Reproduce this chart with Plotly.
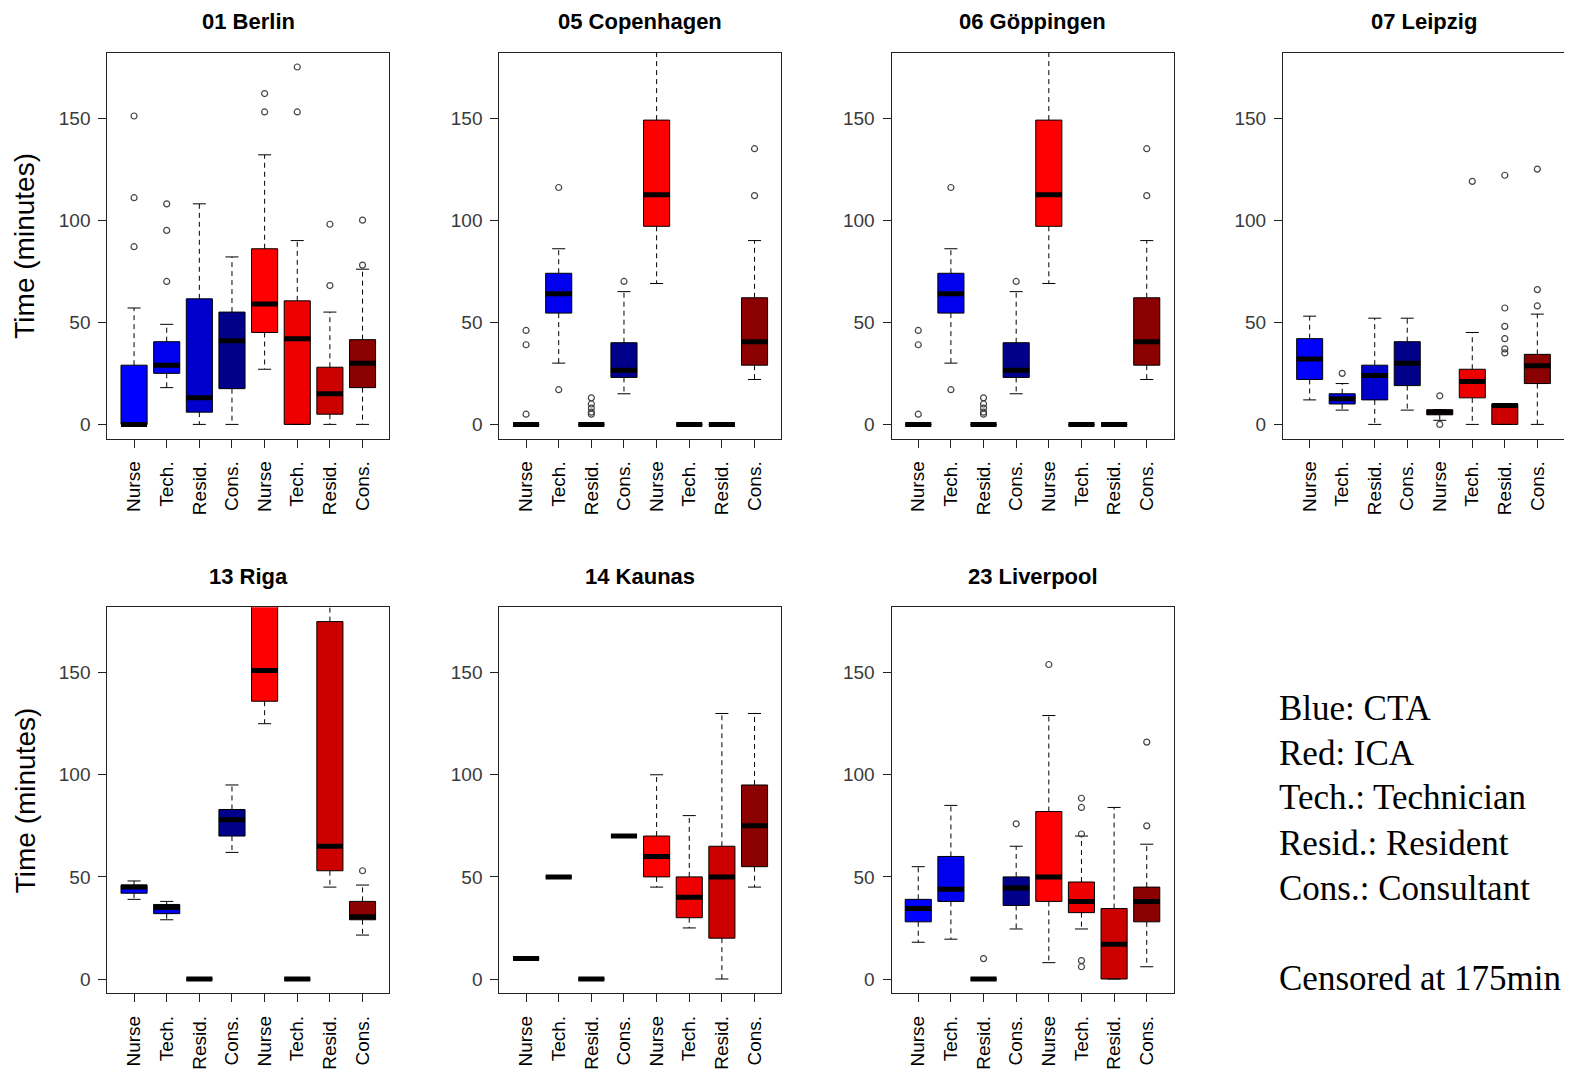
import plotly.graph_objects as go

CATEGORIES = ["Nurse", "Tech.", "Resid.", "Cons.", "Nurse", "Tech.", "Resid.", "Cons."]
CITIES = ["01 Berlin", "05 Copenhagen", "06 Göppingen", "07 Leipzig",
          "13 Riga", "14 Kaunas", "23 Liverpool"]
Y_TICKS = [0, 50, 100, 150]

BERLIN_Q1 = [0, 25, 6, 17.5, 45, 0, 5, 18]
BERLIN_MED = [0, 29, 13, 41, 59, 42, 15, 30]
BERLIN_Q3 = [29, 40.5, 61.5, 55, 86, 60.5, 28, 41.5]
BERLIN_LO = [0, 18, 0, 0, 27, 0, 0, 0]
BERLIN_HI = [57, 49, 108, 82, 132, 90, 55, 76]
BERLIN_OUT = [[151, 111, 87], [108, 95, 70], [], [], [162, 153], [175, 153], [98, 68], [100, 78]]

COPENHAGEN_Q1 = [0, 54.5, 0, 23, 97, 0, 0, 29]
COPENHAGEN_MED = [0, 64, 0, 26.5, 112.5, 0, 0, 40.5]
COPENHAGEN_Q3 = [0, 74, 0, 40, 149, 0, 0, 62]
COPENHAGEN_LO = [0, 30, 0, 15, 69, 0, 0, 22]
COPENHAGEN_HI = [0, 86, 0, 65, 190, 0, 0, 90]
COPENHAGEN_OUT = [[46, 39, 5], [116, 17], [13, 10, 8, 6, 5], [70], [], [], [], [135, 112]]

GOPPINGEN_Q1 = [0, 54.5, 0, 23, 97, 0, 0, 29]
GOPPINGEN_MED = [0, 64, 0, 26.5, 112.5, 0, 0, 40.5]
GOPPINGEN_Q3 = [0, 74, 0, 40, 149, 0, 0, 62]
GOPPINGEN_LO = [0, 30, 0, 15, 69, 0, 0, 22]
GOPPINGEN_HI = [0, 86, 0, 65, 190, 0, 0, 90]
GOPPINGEN_OUT = [[46, 39, 5], [116, 17], [13, 10, 8, 6, 5], [70], [], [], [], [135, 112]]

LEIPZIG_Q1 = [22, 10, 12, 19, 4.7, 13, 0, 20]
LEIPZIG_MED = [32, 12.5, 24, 30, 6, 21, 9.3, 28.7]
LEIPZIG_Q3 = [42, 15, 29, 40.5, 7.2, 27, 10, 34.3]
LEIPZIG_LO = [12, 7, 0, 7, 2, 0, 0, 0]
LEIPZIG_HI = [53, 20, 52, 52, 7.2, 45, 10, 54]
LEIPZIG_OUT = [[], [25], [], [], [14, 0], [119], [122, 57, 48, 42, 37, 35], [125, 66, 58]]

RIGA_Q1 = [42, 32, 0, 70, 136, 0, 53, 29]
RIGA_MED = [45, 35, 0, 78, 151, 0, 65, 30.5]
RIGA_Q3 = [46, 36.5, 0, 83, 190, 0, 175, 38]
RIGA_LO = [39, 29, 0, 62, 125, 0, 45, 21.5]
RIGA_HI = [48, 38, 0, 95, 190, 0, 190, 46]
RIGA_OUT = [[], [], [], [], [], [], [], [53]]

KAUNAS_Q1 = [10, 50, 0, 70, 50, 30, 20, 55]
KAUNAS_MED = [10, 50, 0, 70, 60, 40, 50, 75]
KAUNAS_Q3 = [10, 50, 0, 70, 70, 50, 65, 95]
KAUNAS_LO = [10, 50, 0, 70, 45, 25, 0, 45]
KAUNAS_HI = [10, 50, 0, 70, 100, 80, 130, 130]
KAUNAS_OUT = [[], [], [], [], [], [], [], []]

LIVERPOOL_Q1 = [28, 38, 0, 36, 38, 32.5, 0, 28]
LIVERPOOL_MED = [34.5, 44, 0, 44.5, 50, 38, 17, 38]
LIVERPOOL_Q3 = [39, 60, 0, 50, 82, 47.5, 34.5, 45]
LIVERPOOL_LO = [18, 19.5, 0, 24.5, 8, 24.5, 0, 6]
LIVERPOOL_HI = [55, 85, 0, 65, 129, 70, 84, 66]
LIVERPOOL_OUT = [[], [], [10], [76], [154], [88.5, 84, 71, 9, 6], [], [116, 75]]

LEGEND_LINES = ["Blue: CTA", "Red: ICA", "Tech.: Technician",
                "Resid.: Resident", "Cons.: Consultant", "Censored at 175min"]

PANELS = [
    (BERLIN_Q1, BERLIN_MED, BERLIN_Q3, BERLIN_LO, BERLIN_HI, BERLIN_OUT),
    (COPENHAGEN_Q1, COPENHAGEN_MED, COPENHAGEN_Q3, COPENHAGEN_LO, COPENHAGEN_HI, COPENHAGEN_OUT),
    (GOPPINGEN_Q1, GOPPINGEN_MED, GOPPINGEN_Q3, GOPPINGEN_LO, GOPPINGEN_HI, GOPPINGEN_OUT),
    (LEIPZIG_Q1, LEIPZIG_MED, LEIPZIG_Q3, LEIPZIG_LO, LEIPZIG_HI, LEIPZIG_OUT),
    (RIGA_Q1, RIGA_MED, RIGA_Q3, RIGA_LO, RIGA_HI, RIGA_OUT),
    (KAUNAS_Q1, KAUNAS_MED, KAUNAS_Q3, KAUNAS_LO, KAUNAS_HI, KAUNAS_OUT),
    (LIVERPOOL_Q1, LIVERPOOL_MED, LIVERPOOL_Q3, LIVERPOOL_LO, LIVERPOOL_HI, LIVERPOOL_OUT),
]

# ---- styling / layout ----
OFF = 8  # default page body margin
W, H = 1572 - 2 * OFF, 1080 - 2 * OFF
BOX_COLORS = ["#0000FF", "#0000EE", "#0000CD", "#00008B",
              "#FF0000", "#EE0000", "#CD0000", "#8B0000"]
SANS = "Liberation Sans, Arial, sans-serif"
SERIF = "Liberation Serif, Times New Roman, serif"
COL_LEFT = [107.3, 499.3, 891.5, 1283.0]
PANEL_W = 282.0
ROW_TOP = [52.7, 607.3]
PANEL_H = 386.0
BOX_HALF = 0.4
CAP_HALF = 0.2


def px(x):
    return min(1.0, max(0.0, (x - OFF) / W))


def py(y):
    return min(1.0, max(0.0, 1 - (y - OFF) / H))


fig = go.Figure()
layout = dict(width=W, height=H, autosize=False, margin=dict(l=0, r=0, t=0, b=0),
              paper_bgcolor="white", plot_bgcolor="white", showlegend=False,
              annotations=[])

for i, (q1, med, q3, lo, hi, out) in enumerate(PANELS):
    r, c = divmod(i, 4)
    ax = "" if i == 0 else str(i + 1)
    xref, yref = "x" + ax, "y" + ax
    xs = list(range(1, len(CATEGORIES) + 1))

    # whiskers (dashed)
    wx, wy = [], []
    for x, a, b, l, h in zip(xs, q1, q3, lo, hi):
        wx += [x, x, None, x, x, None]
        wy += [b, h, None, a, l, None]
    fig.add_trace(go.Scatter(x=wx, y=wy, mode="lines", xaxis=xref, yaxis=yref,
                             line=dict(color="black", width=1, dash="5px,4px"),
                             hoverinfo="skip"))
    # staples
    sx, sy = [], []
    for x, l, h in zip(xs, lo, hi):
        sx += [x - CAP_HALF, x + CAP_HALF, None, x - CAP_HALF, x + CAP_HALF, None]
        sy += [h, h, None, l, l, None]
    fig.add_trace(go.Scatter(x=sx, y=sy, mode="lines", xaxis=xref, yaxis=yref,
                             line=dict(color="black", width=1), hoverinfo="skip"))
    # boxes
    fig.add_trace(go.Bar(x=xs, y=[b - a for a, b in zip(q1, q3)], base=q1,
                         width=2 * BOX_HALF, xaxis=xref, yaxis=yref,
                         marker=dict(color=BOX_COLORS, line=dict(color="black", width=1))))
    # medians
    mx, my = [], []
    for x, m in zip(xs, med):
        mx += [x - BOX_HALF, x + BOX_HALF, None]
        my += [m, m, None]
    fig.add_trace(go.Scatter(x=mx, y=my, mode="lines", xaxis=xref, yaxis=yref,
                             line=dict(color="black", width=5), hoverinfo="skip"))
    # outliers
    ox, oy = [], []
    for x, pts in zip(xs, out):
        for p in pts:
            ox.append(x)
            oy.append(p)
    if ox:
        fig.add_trace(go.Scatter(x=ox, y=oy, mode="markers", xaxis=xref, yaxis=yref,
                                 marker=dict(symbol="circle-open", size=6, color="#444",
                                             line=dict(width=1.2, color="#444"))))

    x0 = px(COL_LEFT[c])
    x1 = px(COL_LEFT[c] + PANEL_W)
    y1 = py(ROW_TOP[r])
    y0 = py(ROW_TOP[r] + PANEL_H)
    layout["xaxis" + ax] = dict(domain=[x0, x1], anchor=yref, range=[0.18, 8.82],
                                tickmode="array", tickvals=xs, ticktext=CATEGORIES,
                                tickangle=-90, ticks="outside", ticklen=8, tickcolor="#222",
                                showline=True, mirror=True, linecolor="#222", linewidth=1,
                                showgrid=False, zeroline=False, ticklabelstandoff=6,
                                tickfont=dict(family=SANS, size=19, color="black"))
    layout["yaxis" + ax] = dict(domain=[y0, y1], anchor=xref, range=[-7, 182],
                                tickmode="array", tickvals=Y_TICKS,
                                ticks="outside", ticklen=8, tickcolor="#222",
                                showline=True, mirror=True, linecolor="#222", linewidth=1,
                                showgrid=False, zeroline=False, ticklabelstandoff=4,
                                tickfont=dict(family=SANS, size=19, color="#3a3a3a"))
    # panel title
    layout["annotations"].append(dict(
        text="<b>%s</b>" % CITIES[i], xref="paper", yref="paper",
        x=(x0 + x1) / 2, y=py(ROW_TOP[r] - 31), xanchor="center", yanchor="middle",
        borderpad=0, showarrow=False, font=dict(family=SANS, size=22, color="black")))
    if c == 0:
        layout["annotations"].append(dict(
            text="Time (minutes)", xref="paper", yref="paper", textangle=-90,
            x=px(25), y=(y0 + y1) / 2, xanchor="center", yanchor="middle",
            showarrow=False, font=dict(family=SANS, size=28, color="black")))

legend_y = [708, 753, 798, 843, 888, 978]
for txt, yy in zip(LEGEND_LINES, legend_y):
    layout["annotations"].append(dict(
        text=txt, xref="paper", yref="paper", x=px(1277), y=py(yy),
        xanchor="left", yanchor="middle", showarrow=False,
        font=dict(family=SERIF, size=35, color="black")))

fig.update_layout(**layout)
fig.write_html("out.html")
